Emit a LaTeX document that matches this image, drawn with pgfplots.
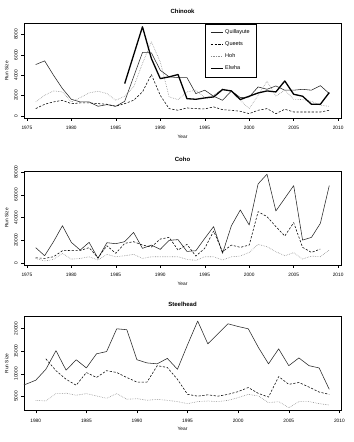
\documentclass[border=0pt]{standalone}
\usepackage{pgfplots}
\pgfplotsset{compat=1.18}
\usepackage{fontspec}
\setmainfont{Liberation Sans}
\newcommand{\tickfont}{\fontsize{4.8bp}{5.2bp}\selectfont}
\pgfplotsset{
  every axis title shift=0pt,
  rstyle/.style={
    width=317bp, scale only axis,
    scaled x ticks=false, scaled y ticks=false,
    axis line style={line width=0.5bp},
    tick style={line width=0.4bp, black},
    xtick pos=bottom, ytick pos=left,
    tick align=outside, major tick length=2.8bp,
    minor tick num=0,
    xticklabel style={font=\tickfont, inner sep=0pt, anchor=north, yshift=-5.2bp},
    yticklabel style={font=\tickfont, inner sep=0pt, xshift=-3.4bp, rotate=90, anchor=south},
    xlabel={Year}, ylabel={Run Size},
    xlabel style={font=\tickfont, at={(axis description cs:0.5,-0.2)}, anchor=center},
    ylabel style={font=\tickfont, at={(axis description cs:-0.055,0.5)}, anchor=center},
    title style={font=\fontsize{6bp}{7bp}\selectfont\bfseries, at={(axis description cs:0.5,1.125)}, anchor=center},
    every axis plot/.append style={line join=round, mark=none},
    qu/.style={black!85, line width=0.55bp},
    qe/.style={black, line width=0.55bp, dash pattern=on 2.2bp off 1.6bp},
    ho/.style={black!45, line width=0.6bp, dash pattern=on 0.6bp off 1.1bp},
    el/.style={black, line width=1.3bp},
  }
}
\begin{document}
\begin{tikzpicture}
\useasboundingbox (0,0) rectangle (354bp,-442bp);
% ---------------- Chinook
\begin{axis}[rstyle, at={(24bp,-23.5bp)}, anchor=north west, height=94.5bp,
  title={Chinook},
  xmin=1974.68, xmax=2010.32, ymin=-200, ymax=9080,
  xtick={1975,1980,1985,1990,1995,2000,2005,2010},
  xticklabels={1975,1980,1985,1990,1995,2000,2005,2010},
  ytick={0,2000,4000,6000,8000}, yticklabels={0,2000,4000,6000,8000},
  legend style={at={(axis description cs:0.571,1)}, anchor=north west, draw=black, line width=0.45bp,
    font=\fontsize{5.5bp}{6bp}\selectfont, inner xsep=5bp, inner ysep=4bp, row sep=2.6bp,
    cells={anchor=west}},
  legend image code/.code={\draw[#1] (0bp,0bp) -- (11.7bp,0bp);},
]
\addplot[qu] coordinates {(1976,5050)(1977,5410)(1978,4000)(1979,2690)(1980,1640)(1981,1380)(1982,1380)(1983,950)(1984,1115)(1985,950)(1986,1440)(1987,3840)(1988,6230)(1989,6200)(1990,4490)(1991,3840)(1992,3770)(1993,3770)(1994,2200)(1995,2530)(1996,1940)(1997,1540)(1998,2460)(1999,1800)(2000,1870)(2001,2850)(2002,2620)(2003,2950)(2004,2530)(2005,2530)(2006,2620)(2007,2530)(2008,2980)(2009,2200)};
\addlegendentry{Quillayute\hspace{3bp}}
\addplot[qe] coordinates {(1976,720)(1977,1150)(1978,1380)(1979,1540)(1980,1210)(1981,1280)(1982,1280)(1983,1210)(1984,1150)(1985,950)(1986,1210)(1987,1540)(1988,2360)(1989,4070)(1990,2030)(1991,720)(1992,560)(1993,790)(1994,720)(1995,690)(1996,890)(1997,620)(1998,560)(1999,460)(2000,230)(2001,560)(2002,720)(2003,230)(2004,660)(2005,390)(2006,390)(2007,390)(2008,390)(2009,560)};
\addlegendentry{Queets}
\addplot[ho] coordinates {(1976,1380)(1977,2030)(1978,2460)(1979,2360)(1980,1380)(1981,1800)(1982,2260)(1983,2430)(1984,2200)(1985,1540)(1986,1940)(1987,2850)(1988,5150)(1989,7280)(1990,5310)(1991,1870)(1992,1610)(1993,2360)(1994,2530)(1995,1800)(1996,2030)(1997,2690)(1998,2360)(1999,1540)(2000,720)(2001,2030)(2002,3410)(2003,1940)(2004,2530)(2005,1640)(2006,1610)(2007,1440)(2008,1050)(2009,950)};
\addlegendentry{Hoh}
\addplot[el] coordinates {(1986,3180)(1987,5970)(1988,8760)(1989,5640)(1990,3670)(1991,3840)(1992,4070)(1993,1700)(1994,1640)(1995,1770)(1996,1870)(1997,2590)(1998,2460)(1999,1610)(2000,1940)(2001,2260)(2002,2460)(2003,2360)(2004,3440)(2005,2130)(2006,1940)(2007,1150)(2008,1150)(2009,2300)};
\addlegendentry{Elwha}
\end{axis}
% ---------------- Coho
\begin{axis}[rstyle, at={(24bp,-171bp)}, anchor=north west, height=94bp,
  title={Coho},
  xmin=1974.68, xmax=2010.32, ymin=-2000, ymax=81000,
  xtick={1975,1980,1985,1990,1995,2000,2005,2010},
  xticklabels={1975,1980,1985,1990,1995,2000,2005,2010},
  ytick={0,20000,40000,60000,80000}, yticklabels={0,20000,40000,60000,80000},
]
\addplot[qu] coordinates {(1976,13300)(1977,6200)(1978,18600)(1979,32700)(1980,18000)(1981,11200)(1982,18000)(1983,3800)(1984,17700)(1985,16800)(1986,18600)(1987,26800)(1988,12700)(1989,15600)(1990,11800)(1991,19800)(1992,20400)(1993,10000)(1994,10600)(1995,21500)(1996,31900)(1997,8300)(1998,32700)(1999,46600)(2000,33300)(2001,69600)(2002,78200)(2003,45700)(2004,56900)(2005,68100)(2006,20000)(2007,22400)(2008,34800)(2009,68100)};
\addplot[qe] coordinates {(1976,4400)(1977,3800)(1978,5300)(1979,10600)(1980,10900)(1981,10900)(1982,13300)(1983,4400)(1984,15000)(1985,8300)(1986,17100)(1987,18600)(1988,15600)(1989,13900)(1990,20900)(1991,22400)(1992,11200)(1993,16200)(1994,5900)(1995,12700)(1996,28000)(1997,9700)(1998,15600)(1999,13600)(2000,15600)(2001,45100)(2002,40700)(2003,31900)(2004,23600)(2005,35400)(2006,13600)(2007,9100)(2008,12100)};
\addplot[ho] coordinates {(1976,3800)(1977,1500)(1978,3000)(1979,8300)(1980,3200)(1981,3800)(1982,5300)(1983,2400)(1984,7400)(1985,5300)(1986,6200)(1987,7400)(1988,3800)(1989,5300)(1990,5300)(1991,5300)(1992,5300)(1993,3000)(1994,2100)(1995,5300)(1996,5300)(1997,2400)(1998,5300)(1999,5900)(2000,9100)(2001,16200)(2002,14200)(2003,9700)(2004,6200)(2005,8900)(2006,3200)(2007,5900)(2008,5300)(2009,11200)};
\end{axis}
% ---------------- Steelhead
\begin{axis}[rstyle, at={(24bp,-316.5bp)}, anchor=north west, height=94bp,
  title={Steelhead},
  xmin=1978.84, xmax=2010.16, ymin=1950, ymax=22600,
  xtick={1980,1985,1990,1995,2000,2005,2010},
  xticklabels={1980,1985,1990,1995,2000,2005,2010},
  ytick={5000,10000,15000,20000}, yticklabels={5000,10000,15000,20000},
]
\addplot[qu] coordinates {(1978,7300)(1979,7700)(1980,8600)(1981,11000)(1982,15100)(1983,10800)(1984,13100)(1985,11300)(1986,14400)(1987,14900)(1988,19900)(1989,19700)(1990,13100)(1991,12400)(1992,12200)(1993,13400)(1994,11000)(1995,16400)(1996,21600)(1997,16600)(1998,18800)(1999,21000)(2000,20400)(2001,19900)(2002,15800)(2003,12200)(2004,15500)(2005,11800)(2006,13500)(2007,11800)(2008,11300)(2009,6600)};
\addplot[qe] coordinates {(1981,13300)(1982,10700)(1983,8800)(1984,7500)(1985,10300)(1986,9200)(1987,10700)(1988,10300)(1989,9200)(1990,8200)(1991,8200)(1992,11800)(1993,11400)(1994,8800)(1995,5500)(1996,5100)(1997,5400)(1998,5100)(1999,5500)(2000,6100)(2001,7000)(2002,5700)(2003,4900)(2004,9400)(2005,7700)(2006,8100)(2007,7100)(2008,6000)(2009,5500)};
\addplot[ho] coordinates {(1980,4190)(1981,4040)(1982,5660)(1983,5740)(1984,5300)(1985,5660)(1986,5150)(1987,4630)(1988,5660)(1989,4410)(1990,4560)(1991,4190)(1992,4410)(1993,4190)(1994,3900)(1995,3450)(1996,3900)(1997,4040)(1998,3900)(1999,4190)(2000,4780)(2001,5500)(2002,5150)(2003,3670)(2004,3900)(2005,2570)(2006,3900)(2007,3900)(2008,3450)(2009,3160)};
\end{axis}
\end{tikzpicture}
\end{document}
